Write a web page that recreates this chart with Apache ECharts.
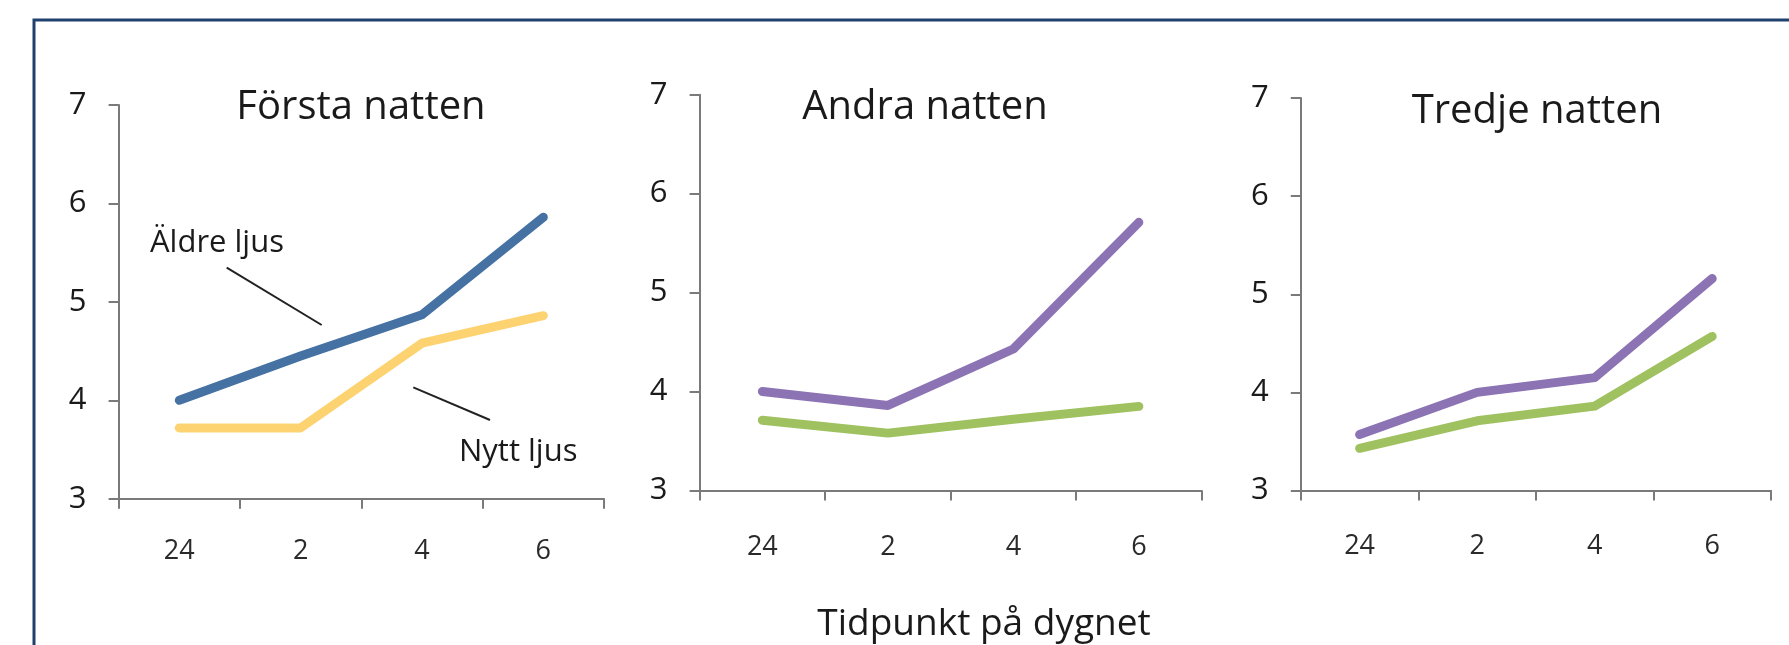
<!DOCTYPE html>
<html>
<head>
<meta charset="utf-8">
<script src="https://cdn.jsdelivr.net/npm/echarts@6/dist/echarts.min.js"></script>
<style>
html,body{margin:0;padding:0;background:#fff}
#Chart{width:1789px;height:645px}
</style>
</head>
<body>
<div id="Chart"></div>
<script>
//data
var timeCats=['24','2','4','6']
var forstaAldre=[4.0,4.45,4.87,5.86]
var forstaNytt=[3.72,3.72,4.58,4.86]
var andraLila=[4.0,3.86,4.43,5.71]
var andraGron=[3.71,3.58,3.72,3.85]
var tredjeLila=[3.57,4.0,4.15,5.16]
var tredjeGron=[3.43,3.71,3.86,4.57]
var yTicks=[3,4,5,6,7]

var FONT='"Open Sans", sans-serif'
var axisColor='#7a7a7a'

function line(idx,data,color){
    return {
        type:'line',
        xAxisIndex:idx,
        yAxisIndex:idx,
        data:data,
        symbol:'none',
        silent:true,
        lineStyle:{width:9,color:color,cap:'round',join:'round'}
    }
}

function xAx(idx,margin){
    return {
        gridIndex:idx,
        type:'category',
        data:timeCats,
        boundaryGap:true,
        axisLine:{lineStyle:{color:axisColor,width:2}},
        axisTick:{show:true,length:10,lineStyle:{color:axisColor,width:2}},
        axisLabel:{margin:margin,fontSize:27,color:'#2a2a2a',fontFamily:FONT}
    }
}

function yAx(idx){
    return {
        gridIndex:idx,
        type:'value',
        min:yTicks[0],
        max:yTicks[yTicks.length-1],
        interval:1,
        splitLine:{show:false},
        axisLine:{show:true,lineStyle:{color:axisColor,width:2}},
        axisTick:{show:true,length:10,lineStyle:{color:axisColor,width:2}},
        axisLabel:{margin:32,fontSize:31,color:'#1a1a1a',fontFamily:FONT}
    }
}

function txt(x,y,s,size,align){
    return {
        type:'text',x:x,y:y,silent:true,
        style:{text:s,fill:'#1a1a1a',font:size+'px '+FONT,align:align||'center',verticalAlign:'middle'}
    }
}

function drawChar(){
    var myChart=echarts.init(document.getElementById('Chart'))
    var option={
        animation:false,
        grid:[
            {left:118.6,top:104.9,width:485.4,height:393.9},
            {left:699.6,top:94.7,width:502,height:395.8},
            {left:1300.8,top:98,width:470.2,height:392.5}
        ],
        xAxis:[xAx(0,39),xAx(1,43),xAx(2,42)],
        yAxis:[yAx(0),yAx(1),yAx(2)],
        series:[
            line(0,forstaAldre,'#4571a3'),
            line(0,forstaNytt,'#fdd372'),
            line(1,andraLila,'#8c73b3'),
            line(1,andraGron,'#9fc160'),
            line(2,tredjeLila,'#8c73b3'),
            line(2,tredjeGron,'#9fc160')
        ],
        graphic:[
            //ram
            {type:'rect',silent:true,shape:{x:34,y:20,width:1800,height:700},
             style:{fill:'none',stroke:'#20406e',lineWidth:3}},
            txt(361,108,'Första natten',40),
            txt(925,108,'Andra natten',40),
            txt(1537,112,'Tredje natten',40),
            txt(984,624,'Tidpunkt på dygnet',37),
            txt(150,243.5,'Äldre ljus',31,'left'),
            txt(459,452,'Nytt ljus',31,'left'),
            {type:'line',silent:true,shape:{x1:226.7,y1:267.7,x2:321.7,y2:325},style:{stroke:'#222',lineWidth:2}},
            {type:'line',silent:true,shape:{x1:413.3,y1:387.3,x2:490,y2:420},style:{stroke:'#222',lineWidth:2}}
        ]
    }
    myChart.setOption(option)
}

drawChar()
</script>
</body>
</html>
